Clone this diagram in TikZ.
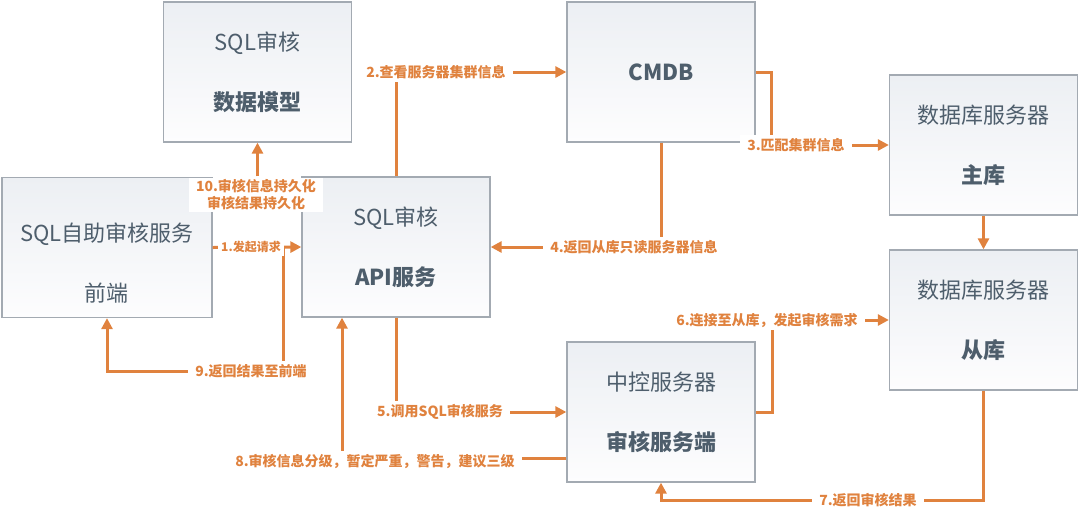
\documentclass[tikz,border=0pt]{standalone}
\usepackage{fontspec}
\setmainfont{Noto Sans CJK SC}
\usetikzlibrary{arrows.meta,positioning,calc}
\definecolor{BoxLine}{HTML}{A3AAB2}
\definecolor{BoxTop}{HTML}{ECEFF3}
\definecolor{BoxBot}{HTML}{FDFDFE}
\definecolor{BoxText}{HTML}{4E5E6C}
\definecolor{Naranja}{HTML}{E0823E}
\tikzset{
  caja/.style   = {draw=BoxLine, line width=1.3pt, top color=BoxTop, bottom color=BoxBot,
                   align=center, text=BoxText, font=\fontsize{22}{26}\selectfont,
                   minimum width=188pt, minimum height=140pt, inner sep=0pt},
  flecha/.style = {draw=Naranja, line width=3pt, -{Triangle[length=11pt,width=11pt]}},
  paso/.style   = {font=\fontsize{14}{17}\selectfont\bfseries, text=Naranja, fill=white,
                   inner xsep=7pt, inner ysep=3pt, align=center},
}

\begin{document}
\begin{tikzpicture}[x=1pt,y=-1pt]
  \useasboundingbox (0,0) rectangle (1080,515);
  % cajas
  \node[caja, minimum width=210pt] (front) at (107,247.5)
       {\rule{0pt}{49pt}SQL自助审核服务\\[34pt]前端};
  \node[caja] (model)  at (257.5,72)  {SQL审核\\[34pt]\textbf{数据模型}};
  \node[caja] (api)    at (396,247)   {SQL审核\\[34pt]\textbf{API服务}};
  \node[caja] (cmdb)   at (661,72)    {\textbf{CMDB}};
  \node[caja] (master) at (983.5,145) {数据库服务器\\[34pt]\textbf{主库}};
  \node[caja] (slave)  at (983.5,320) {数据库服务器\\[34pt]\textbf{从库}};
  \node[caja] (ctrl)   at (661,412)   {中控服务器\\[34pt]\textbf{审核服务端}};

  % flechas
  \coordinate (r9) at (283,247);
  \draw[flecha] (r9) -- ++(0,124) -| (front.south);
  \draw[flecha] (front.east) -- (api.west);
  \draw[flecha] (api.north) |- (cmdb.west);
  \draw[flecha] (cmdb.east) -- ++(16,0) |- (master.west);
  \draw[flecha] (cmdb.south) |- (api.east);
  \draw[flecha] (api.south) |- (ctrl.west);
  \draw[flecha] (ctrl.east) -- ++(17,0) |- (slave.west);
  \draw[flecha] (master.south) -- (slave.north);
  \draw[flecha] (slave.south) -- ++(0,110) -| (ctrl.south);
  \draw[flecha] ($(ctrl.west)+(0,46)$) -| ($(api.south)+(-54,0)$);
  \draw[flecha] (api.north west -| model.south) -- (model.south);

  % pasos
  \node[paso, font=\fontsize{12}{15}\selectfont\bfseries, inner xsep=3pt] (p1) at (251,247) {1.发起请求};
  \node[paso] (p2)  at (436,72)  {2.查看服务器集群信息};
  \node[paso] (p3)  at (796,145) {3.匹配集群信息};
  \node[paso] (p4)  at (634,247) {4.返回从库只读服务器信息};
  \node[paso] (p5)  at (440,412) {5.调用SQL审核服务};
  \node[paso] (p6)  at (767,320) {6.连接至从库，发起审核需求};
  \node[paso] (p7)  at (868,500) {7.返回审核结果};
  \node[paso] (p8)  at (375,461) {8.审核信息分级，暂定严重，警告，建议三级};
  \node[paso] (p9)  at (251,371) {9.返回结果至前端};
  \node[paso, inner ysep=2pt] (p10) at (256,195) {10.审核信息持久化\\审核结果持久化};
\end{tikzpicture}
\end{document}
